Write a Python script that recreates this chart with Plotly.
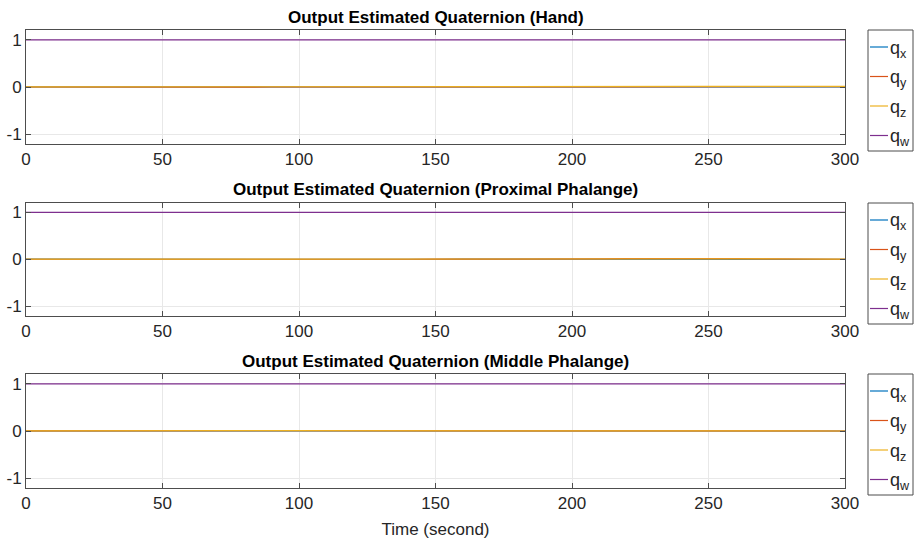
import plotly.graph_objects as go

# Time samples (seconds)
time_s = [0, 10, 20, 30, 40, 50, 60, 70, 80, 90, 100, 110, 120, 130, 140, 150,
          160, 170, 180, 190, 200, 210, 220, 230, 240, 250, 260, 270, 280, 290, 300]

panel_titles = ["Output Estimated Quaternion (Hand)",
                "Output Estimated Quaternion (Proximal Phalange)",
                "Output Estimated Quaternion (Middle Phalange)"]

# Hand
hand_qx = [0.001, 0.002, 0.000, -0.001, 0.001, 0.002, 0.001, 0.000, -0.001, 0.000, 0.001,
           0.002, 0.001, 0.000, 0.001, 0.002, 0.001, 0.000, 0.001, 0.002, 0.003, 0.002,
           0.001, 0.002, 0.003, 0.002, 0.001, 0.002, 0.003, 0.002, 0.001]
hand_qy = [0.000, -0.002, -0.003, -0.002, -0.001, -0.002, -0.003, -0.002, -0.001, 0.000, -0.001,
           -0.002, -0.003, -0.002, -0.001, 0.000, -0.001, -0.002, -0.001, 0.000, 0.001, 0.002,
           0.003, 0.004, 0.005, 0.006, 0.007, 0.008, 0.009, 0.010, 0.008]
hand_qz = [0.002, 0.003, 0.004, 0.003, 0.004, 0.005, 0.006, 0.005, 0.004, 0.005, 0.006,
           0.005, 0.004, 0.005, 0.006, 0.007, 0.006, 0.005, 0.006, 0.007, 0.008, 0.009,
           0.010, 0.011, 0.012, 0.013, 0.012, 0.011, 0.012, 0.013, 0.012]
hand_qw = [1.000, 1.000, 1.000, 1.000, 1.000, 1.000, 1.000, 1.000, 1.000, 1.000, 1.000,
           1.000, 1.000, 1.000, 1.000, 1.000, 1.000, 1.000, 1.000, 1.000, 1.000, 1.000,
           1.000, 1.000, 1.000, 1.000, 1.000, 1.000, 1.000, 1.000, 1.000]

# Proximal phalange
prox_qx = [0.001, 0.000, -0.001, 0.000, 0.001, 0.000, -0.001, 0.000, 0.001, 0.002, 0.001,
           0.000, 0.001, 0.002, 0.001, 0.000, 0.001, 0.000, -0.001, 0.000, 0.001, 0.002,
           0.003, 0.004, 0.005, 0.004, 0.003, 0.002, 0.001, 0.000, -0.001]
prox_qy = [0.000, -0.001, -0.002, -0.001, 0.000, -0.001, -0.002, -0.001, 0.000, -0.001, -0.002,
           -0.001, 0.000, -0.001, 0.000, 0.001, 0.000, -0.001, 0.000, 0.001, 0.003, 0.008,
           0.012, 0.015, 0.016, 0.014, 0.012, 0.009, 0.004, 0.001, 0.000]
prox_qz = [0.001, 0.002, 0.001, 0.002, 0.003, 0.002, 0.001, 0.002, 0.003, 0.002, 0.001,
           0.002, 0.003, 0.002, 0.001, 0.002, 0.003, 0.002, 0.001, 0.002, 0.004, 0.007,
           0.010, 0.012, 0.013, 0.012, 0.010, 0.008, 0.005, 0.002, 0.001]
prox_qw = [1.000, 1.000, 1.000, 1.000, 1.000, 1.000, 1.000, 1.000, 1.000, 1.000, 1.000,
           1.000, 1.000, 1.000, 1.000, 1.000, 1.000, 1.000, 1.000, 1.000, 1.000, 1.000,
           1.000, 1.000, 1.000, 1.000, 1.000, 1.000, 1.000, 1.000, 1.000]

# Middle phalange
mid_qx = [0.002, 0.003, 0.004, 0.005, 0.006, 0.005, 0.004, 0.003, 0.004, 0.003, 0.002,
          0.003, 0.002, 0.001, 0.002, 0.001, 0.000, 0.001, 0.002, 0.001, 0.000, 0.001,
          0.000, -0.001, 0.000, 0.001, 0.000, -0.001, 0.000, -0.001, 0.000]
mid_qy = [0.004, 0.006, 0.008, 0.010, 0.011, 0.012, 0.010, 0.009, 0.008, 0.007, 0.006,
          0.005, 0.004, 0.003, 0.004, 0.003, 0.002, 0.003, 0.002, 0.001, 0.002, 0.001,
          0.000, 0.001, 0.000, -0.001, 0.000, -0.001, -0.002, -0.001, 0.000]
mid_qz = [0.003, 0.005, 0.007, 0.009, 0.010, 0.011, 0.009, 0.008, 0.007, 0.006, 0.005,
          0.004, 0.004, 0.003, 0.003, 0.002, 0.002, 0.003, 0.002, 0.002, 0.001, 0.002,
          0.001, 0.001, 0.000, 0.001, 0.000, 0.000, -0.001, 0.000, 0.000]
mid_qw = [1.000, 1.000, 1.000, 1.000, 1.000, 1.000, 1.000, 1.000, 1.000, 1.000, 1.000,
          1.000, 1.000, 1.000, 1.000, 1.000, 1.000, 1.000, 1.000, 1.000, 1.000, 1.000,
          1.000, 1.000, 1.000, 1.000, 1.000, 1.000, 1.000, 1.000, 1.000]

series_names = ["q<sub>x</sub>", "q<sub>y</sub>", "q<sub>z</sub>", "q<sub>w</sub>"]
series_colors = ["#0072BD", "#D95319", "#EDB120", "#7E2F8E"]
x_ticks = [0, 50, 100, 150, 200, 250, 300]
y_ticks = [-1, 0, 1]
y_tick_labels = ["-1", "0", "1"]

panels = [
    [hand_qx, hand_qy, hand_qz, hand_qw],
    [prox_qx, prox_qy, prox_qz, prox_qw],
    [mid_qx, mid_qy, mid_qz, mid_qw],
]

# ---- layout geometry (screen pixels) ----
FW, FH = 917, 540
ml, mr, mt, mb = 26, 917 - 845, 30, 540 - 488
pw = FW - ml - mr
ph = FH - mt - mb


def px_x(X):
    return (X - ml) / pw


def px_y(Y):
    return (FH - mb - Y) / ph


panel_px = [(30, 144), (202.5, 316), (374, 488)]
domains = [[px_y(b), px_y(t)] for t, b in panel_px]
legend_tops = [30, 203, 374]
legend_box_w, legend_box_h = 45, 121
legend_item_dy = [17, 46.5, 76, 105.5]

font_family = "Liberation Sans, Arial, Helvetica, sans-serif"
FS = 17

fig = go.Figure()
for i, pdata in enumerate(panels):
    xa = "x" if i == 0 else f"x{i+1}"
    ya = "y" if i == 0 else f"y{i+1}"
    for j, vals in enumerate(pdata):
        fig.add_trace(go.Scatter(
            x=time_s, y=vals, mode="lines", name=series_names[j],
            line=dict(color=series_colors[j], width=1.2),
            xaxis=xa, yaxis=ya, showlegend=False))

axis_common = dict(
    showline=True, linecolor="#4d4d4d", linewidth=1, mirror="ticks",
    ticks="inside", ticklen=5, tickcolor="#4d4d4d",
    showgrid=True, gridcolor="#e8e8e8", gridwidth=1, zeroline=False,
    automargin=False,
    tickfont=dict(size=FS, color="#262626", family=font_family),
)

layout = dict(
    width=FW, height=FH,
    margin=dict(l=ml, r=mr, t=mt, b=mb),
    plot_bgcolor="white", paper_bgcolor="white",
    font=dict(family=font_family, color="#262626"),
    annotations=[], shapes=[], showlegend=False,
)

for i in range(3):
    xk = "xaxis" if i == 0 else f"xaxis{i+1}"
    yk = "yaxis" if i == 0 else f"yaxis{i+1}"
    ya = "y" if i == 0 else f"y{i+1}"
    xa = "x" if i == 0 else f"x{i+1}"
    layout[xk] = dict(axis_common, range=[0, 300], tickvals=x_ticks,
                      anchor=ya, domain=[0, 1])
    layout[yk] = dict(axis_common, range=[-1.21, 1.21], tickvals=y_ticks,
                      ticktext=y_tick_labels, anchor=xa, domain=domains[i])
    layout["annotations"].append(dict(
        text=f"<b>{panel_titles[i]}</b>", xref="paper", yref="paper",
        x=0.5, y=domains[i][1], yshift=1, xanchor="center", yanchor="bottom",
        showarrow=False, font=dict(size=FS, color="black", family=font_family)))

    # legend box for this panel
    lx0 = 868
    ly0 = legend_tops[i]
    layout["shapes"].append(dict(
        type="rect", xref="paper", yref="paper", layer="above",
        x0=px_x(lx0), x1=px_x(lx0 + legend_box_w),
        y0=px_y(ly0 + legend_box_h), y1=px_y(ly0),
        line=dict(color="#4d4d4d", width=1), fillcolor="white"))
    for j in range(4):
        yy = ly0 + legend_item_dy[j]
        layout["shapes"].append(dict(
            type="line", xref="paper", yref="paper", layer="above",
            x0=px_x(lx0 + 2), x1=px_x(lx0 + 20), y0=px_y(yy), y1=px_y(yy),
            line=dict(color=series_colors[j], width=1.2)))
        layout["annotations"].append(dict(
            text=series_names[j], xref="paper", yref="paper",
            x=px_x(lx0 + 20), y=px_y(yy), xanchor="left", yanchor="middle",
            yshift=-2, showarrow=False,
            font=dict(size=FS + 1, color="#262626", family=font_family)))

layout["xaxis3"]["title"] = dict(text="Time (second)",
                                 font=dict(size=FS, color="#262626", family=font_family),
                                 standoff=10)

fig.update_layout(**layout)
fig.write_html(
    "out.html",
    config={"displayModeBar": False},
    post_script="document.body.style.margin='0';document.body.style.overflow='hidden';",
)
